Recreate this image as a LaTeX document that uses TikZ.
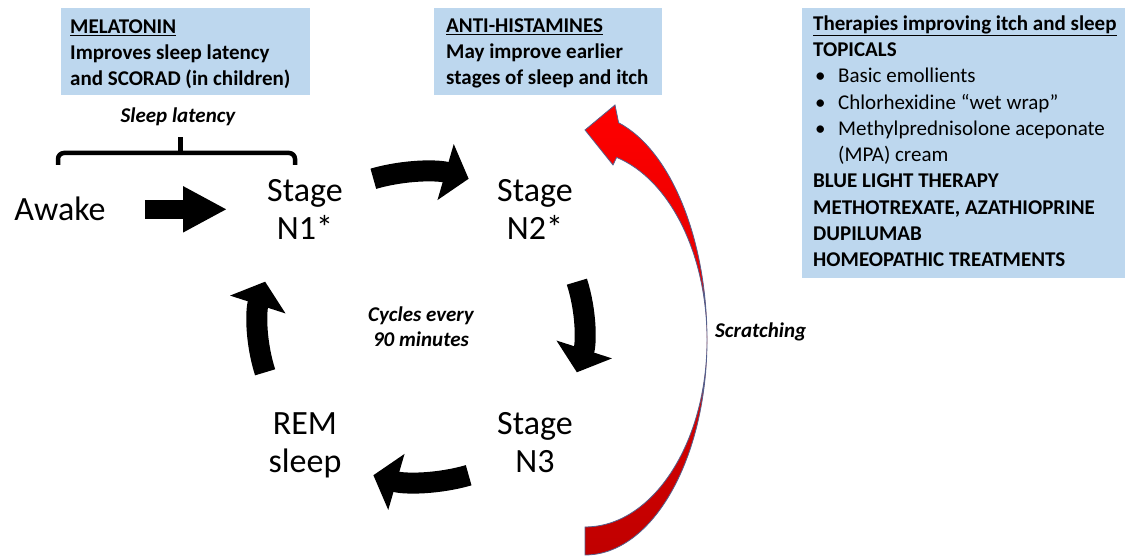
\documentclass[tikz,border=0pt]{standalone}
\usepackage{fontspec}
\setmainfont{Carlito}
\usetikzlibrary{arrows.meta}
\definecolor{boxblue}{RGB}{189,215,238}
\definecolor{scratchred}{RGB}{255,0,0}
\definecolor{scratchdark}{RGB}{192,0,0}
\definecolor{scratchedge}{RGB}{84,96,140}
\begin{document}
\begin{tikzpicture}[x=1pt,y=1pt,
  stagetext/.style={font=\fontsize{34}{38}\selectfont, inner sep=0pt, align=flush center},
  note/.style={font=\bfseries\itshape\fontsize{21}{25}\selectfont, inner sep=0pt, align=flush center},
  infobox/.style={fill=boxblue, anchor=north west, inner ysep=0pt, align=flush left,
    font=\bfseries\fontsize{21}{26}\selectfont},
  cyclearrow/.style={line width=21pt, -{Triangle[length=24pt,width=57pt]}},
  awakearrow/.style={line width=19pt, -{Triangle[length=44pt,width=43pt]}}]
\useasboundingbox (0,0) rectangle (1134,556);

% treatment boxes
\node[infobox, inner xsep=9pt, text width=231pt, text height=25pt, text depth=62pt] (mel) at (61,548)
  {\underline{MELATONIN}\\Improves sleep latency\\and SCORAD (in children)};
\node[infobox, inner xsep=12pt, text width=204pt, text height=24pt, text depth=63pt] (anti) at (434,548)
  {\underline{ANTI-HISTAMINES}\\May improve earlier\\stages of sleep and itch};
\node[infobox, inner xsep=11pt, text width=301pt, text height=22pt, text depth=248pt,
  font=\fontsize{21}{26.3}\selectfont] (ther) at (802,548)
  {\textbf{\underline{Therapies improving itch and sleep}}\\
   \textbf{TOPICALS}\\
   \hspace*{2pt}\makebox[23pt][l]{\textbullet}Basic emollients\\
   \hspace*{2pt}\makebox[23pt][l]{\textbullet}Chlorhexidine “wet wrap”\\
   \hspace*{2pt}\makebox[23pt][l]{\textbullet}Methylprednisolone aceponate\\
   \hspace*{25pt}(MPA) cream\\
   \textbf{BLUE LIGHT THERAPY}\\
   \textbf{METHOTREXATE, AZATHIOPRINE}\\
   \textbf{DUPILUMAB}\\
   \textbf{HOMEOPATHIC TREATMENTS}};

% sleep stages
\node[stagetext, anchor=base] (awake) at (60,335) {Awake};
\node[stagetext, anchor=base] (n1) at (305,316) {Stage\\N1*};
\node[stagetext, anchor=base] (n2) at (535,316) {Stage\\N2*};
\node[stagetext, anchor=base] (n3) at (535,83) {Stage\\N3};
\node[stagetext, anchor=base] (rem) at (305,83) {REM\\sleep};
\node[note] (cyc) at (421,229) {Cycles every\\90 minutes};

% sleep latency brace
\node[note, anchor=base] (lat) at (178,433) {Sleep latency};
\draw[line width=4.5pt, rounded corners=6pt] (58,391) |- (295,403) -- (295,391);
\draw[line width=5pt] (180,403) -- (180,419);

\draw[awakearrow, shorten <=39pt, shorten >=40pt] (awake.east) -- (awake.east -| n1.west);
\foreach \a in {90,0,-90,180}
  \draw[cyclearrow] ([shift={(\a+17:163 and 155)}]cyc.center)
    arc[start angle=\a+17, end angle=\a-17, x radius=163, y radius=155];

% scratching
\draw[scratchedge, line width=0.8pt, top color=scratchred, bottom color=scratchdark]
  (585,1) arc[start angle=-90, end angle=0, x radius=122, y radius=215]
  arc[start angle=0, end angle=74, x radius=122, y radius=226]
  -- (615,451) -- (585,426) -- (613,391) -- (616.6,398.6)
  arc[start angle=75, end angle=0, x radius=122, y radius=189]
  arc[start angle=0, end angle=-90, x radius=122, y radius=187] -- cycle;
\node[note, anchor=base west] (scratch) at (715,218) {Scratching};
\end{tikzpicture}
\end{document}
